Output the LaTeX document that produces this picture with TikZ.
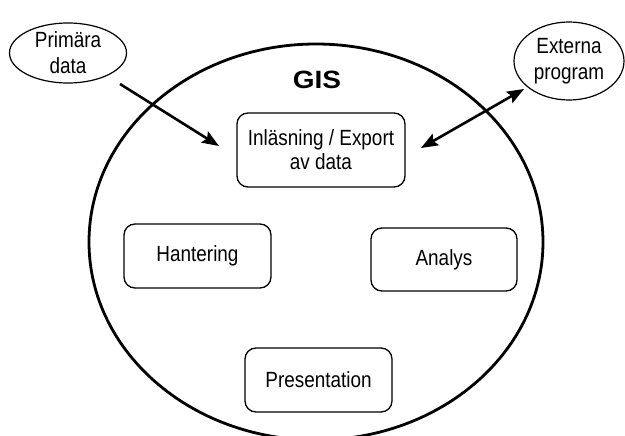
\documentclass[tikz,border=0pt]{standalone}
\usepackage{fontspec}
\setmainfont[FakeStretch=0.86]{Liberation Sans}
\newfontfamily\gisfont[FakeStretch=1.12]{Liberation Sans}
\usetikzlibrary{arrows.meta,shapes.geometric}
\begin{document}
\begin{tikzpicture}[x=1pt,y=-1pt,
  box/.style={draw, line width=1.3pt, rounded corners=11pt, inner sep=0pt,
    align=center, font=\fontsize{22}{24}\selectfont},
  oval/.style={draw, ellipse, line width=1.2pt, inner sep=0pt,
    align=center, font=\fontsize{22}{26}\selectfont},
  arr/.style={line width=2.6pt, -{Stealth[length=17pt,width=13pt,inset=3pt]}},
  darr/.style={line width=2.6pt, {Stealth[length=17pt,width=13pt,inset=3pt]}-{Stealth[length=17pt,width=13pt,inset=3pt]}}]
\useasboundingbox (0,0) rectangle (625,436);
\clip (0,0) rectangle (625,436);
\fill[white] (0,0) rectangle (625,436);
% big GIS circle
\node[draw, ellipse, line width=2.8pt, minimum width=454pt, minimum height=396pt, inner sep=0pt] (gis) at (316,242) {};
\node[font=\gisfont\bfseries\fontsize{25}{28}\selectfont] (gislabel) at (317,80) {GIS};
% outside ovals
\node[oval, minimum width=117pt, minimum height=60pt] (prim) at (68,53) {Primära\\data};
\node[oval, minimum width=110pt, minimum height=78pt] (ext) at (569,61) {Externa\\program};
% boxes
\node[box, minimum width=168pt, minimum height=74pt] (inl) at (321,150) {Inläsning / Export\\av data};
\node[box, minimum width=147pt, minimum height=64pt] (hant) at (197.5,256) {Hantering};
\node[box, minimum width=146pt, minimum height=63pt] (anal) at (444,259.5) {Analys};
\node[box, minimum width=147pt, minimum height=64pt] (pres) at (318.5,380) {Presentation};
% connectors
\coordinate (a1s) at (120,84);
\coordinate (a1e) at (219,146);
\coordinate (a2s) at (421,148);
\coordinate (a2e) at (524,89);
\draw[arr] (a1s) -- (a1e);
\draw[darr] (a2s) -- (a2e);
\end{tikzpicture}
\end{document}
